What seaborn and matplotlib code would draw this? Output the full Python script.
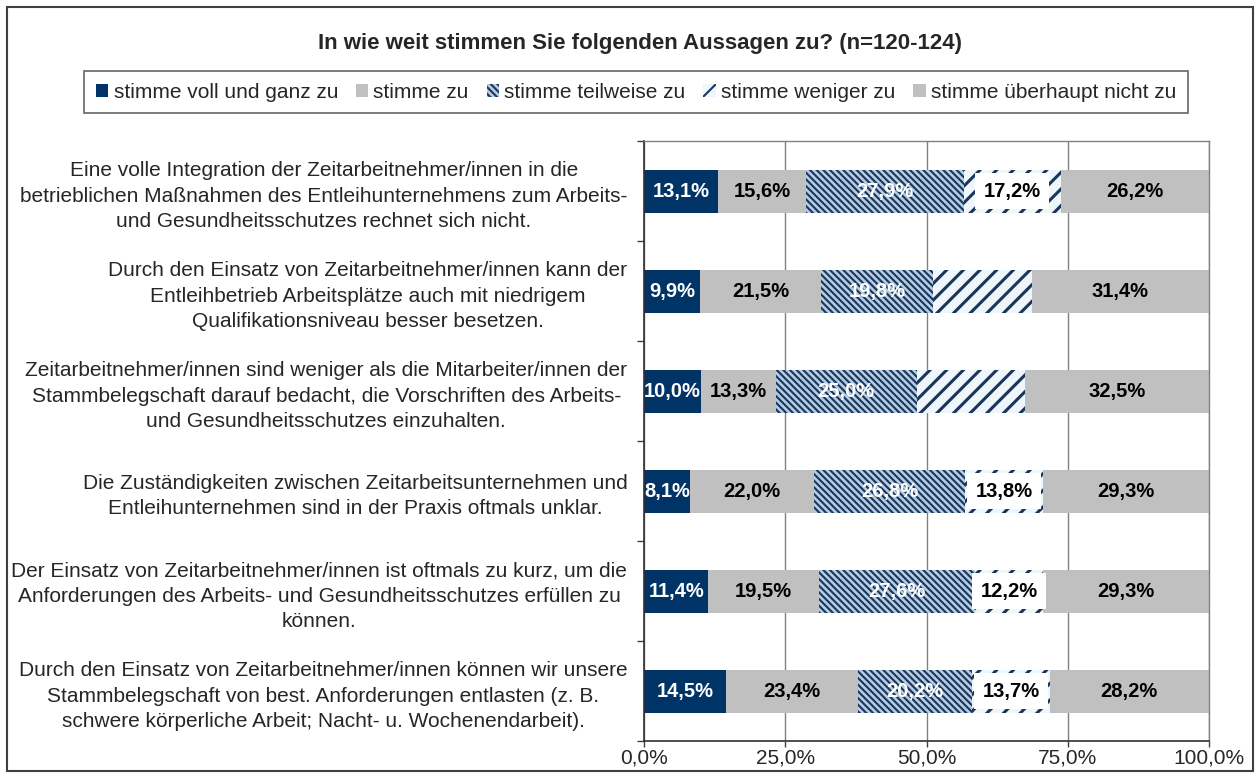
import numpy as np
import pandas as pd
import matplotlib
matplotlib.use('Agg')
import matplotlib.pyplot as plt
import seaborn as sns
from matplotlib.patches import Patch, Rectangle

# Daten
statements = [
    'Eine volle Integration der Zeitarbeitnehmer/innen in die\n'
    'betrieblichen Maßnahmen des Entleihunternehmens zum Arbeits-\n'
    'und Gesundheitsschutzes rechnet sich nicht.',
    'Durch den Einsatz von Zeitarbeitnehmer/innen kann der\n'
    'Entleihbetrieb Arbeitsplätze auch mit niedrigem\n'
    'Qualifikationsniveau besser besetzen.',
    'Zeitarbeitnehmer/innen sind weniger als die Mitarbeiter/innen der\n'
    'Stammbelegschaft darauf bedacht, die Vorschriften des Arbeits-\n'
    'und Gesundheitsschutzes einzuhalten.',
    'Die Zuständigkeiten zwischen Zeitarbeitsunternehmen und\n'
    'Entleihunternehmen sind in der Praxis oftmals unklar.',
    'Der Einsatz von Zeitarbeitnehmer/innen ist oftmals zu kurz, um die\n'
    'Anforderungen des Arbeits- und Gesundheitsschutzes erfüllen zu\n'
    'können.',
    'Durch den Einsatz von Zeitarbeitnehmer/innen können wir unsere\n'
    'Stammbelegschaft von best. Anforderungen entlasten (z. B.\n'
    'schwere körperliche Arbeit; Nacht- u. Wochenendarbeit).',
]
series = ['stimme voll und ganz zu', 'stimme zu', 'stimme teilweise zu',
          'stimme weniger zu', 'stimme überhaupt nicht zu']
voll = [13.1, 9.9, 10.0, 8.1, 11.4, 14.5]
zu = [15.6, 21.5, 13.3, 22.0, 19.5, 23.4]
teilweise = [27.9, 19.8, 25.0, 26.8, 27.6, 20.2]
weniger = [17.2, 17.4, 19.2, 13.8, 12.2, 13.7]
nicht = [26.2, 31.4, 32.5, 29.3, 29.3, 28.2]
weniger_beschriftet = [True, False, False, True, True, True]
xticks = [0, 25, 50, 75, 100]
title = 'In wie weit stimmen Sie folgenden Aussagen zu? (n=120-124)'

NAVY = '#003366'
GREY = '#c0c0c0'
styles = [
    dict(fc=NAVY, hatch=None, ec=NAVY, tc='white'),
    dict(fc=GREY, hatch=None, ec=GREY, tc='black'),
    dict(fc='#b4cce4', hatch='\\\\\\\\\\', ec='#1a3558', tc='white'),
    dict(fc='#eef6fc', hatch='//', ec='#1a3558', tc='black'),
    dict(fc=GREY, hatch=None, ec=GREY, tc='black'),
]

sns.set_theme(style='white')
plt.rcParams['font.family'] = ['Liberation Sans', 'DejaVu Sans']
plt.rcParams['hatch.linewidth'] = 1.5

fig = plt.figure(figsize=(12.6, 7.78), dpi=100)
ax = fig.add_axes([644 / 1260, 1 - 741 / 778, (1209 - 644) / 1260, (741 - 141) / 778])

werte = np.array([voll, zu, teilweise, weniger, nicht])
cum = np.cumsum(werte, axis=0)

# gestapelt: von hinten (100%) nach vorne zeichnen
for i in reversed(range(5)):
    st = styles[i]
    n0 = len(ax.patches)
    df = pd.DataFrame({'aussage': statements, 'wert': cum[i]})
    sns.barplot(data=df, x='wert', y='aussage', orient='h', color=st['fc'],
                saturation=1, width=0.43, errorbar=None, ax=ax)
    for p in ax.patches[n0:]:
        p.set_facecolor(st['fc'])
        p.set_edgecolor(st['ec'])
        p.set_linewidth(0)
        if st['hatch']:
            p.set_hatch(st['hatch'])
            if i == 3 and hasattr(p, 'set_hatch_linewidth'):
                p.set_hatch_linewidth(2.2)

# Beschriftungen
for i in range(5):
    st = styles[i]
    for j in range(6):
        v = werte[i, j]
        if i == 3 and not weniger_beschriftet[j]:
            continue
        xc = cum[i, j] - v / 2
        txt = f'{v:.1f}%'.replace('.', ',')
        kw = {}
        if i == 3:
            kw['bbox'] = dict(boxstyle='square,pad=0.42', fc='white', ec='none')
        ax.text(xc, j, txt, ha='center', va='center', color=st['tc'],
                fontsize=14.5, fontweight='bold', **kw)

ax.set_xlim(0, 100)
ax.set_ylim(5.5, -0.5)
ax.set_xticks(xticks)
ax.set_xticklabels([f'{t:.1f}%'.replace('.', ',') for t in xticks], fontsize=15)
ax.set_xlabel('')
ax.set_ylabel('')
for t in ax.get_yticklabels():
    t.set_multialignment('center')
    t.set_fontsize(15)
    t.set_linespacing(1.42)
ax.tick_params(axis='y', length=0, pad=12)
ax.set_yticks(np.arange(-0.5, 6, 1), minor=True)
ax.tick_params(axis='y', which='minor', left=True, length=5, width=1, color='#404040')
ax.tick_params(axis='x', bottom=True, length=4, width=1, color='#404040', pad=1.5)
ax.xaxis.grid(True, color='#808080', linewidth=1)
ax.set_axisbelow(True)
for s in ['top', 'right']:
    ax.spines[s].set_color('#808080')
    ax.spines[s].set_linewidth(1)
for s in ['left', 'bottom']:
    ax.spines[s].set_color('#303030')
    ax.spines[s].set_linewidth(1.2)

fig.text(640 / 1260, 1 - 44 / 778, title, ha='center', va='center',
         fontsize=16, fontweight='bold')

handles = [Patch(facecolor=st['fc'], edgecolor=st['ec'], hatch=st['hatch'], linewidth=0)
           for st in styles]
leg = fig.legend(handles, series, loc='center', bbox_to_anchor=(636 / 1260, 1 - 92 / 778),
                 ncol=5, fontsize=15, frameon=True, fancybox=False, edgecolor='#404040',
                 handlelength=0.6, handleheight=0.6, handletextpad=0.25,
                 columnspacing=0.85, borderpad=0.55)
leg.get_frame().set_linewidth(1.2)

fig.patches.append(Rectangle((7 / 1260, 7 / 778), 1246 / 1260, 764 / 778,
                             transform=fig.transFigure, fill=False,
                             edgecolor='#404040', linewidth=1.5))

fig.savefig('out.png', dpi=100)
